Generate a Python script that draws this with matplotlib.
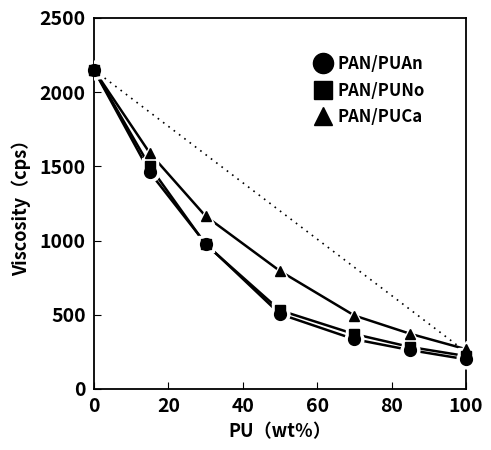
import matplotlib
matplotlib.use("Agg")
import matplotlib.pyplot as plt
from matplotlib.lines import Line2D

plt.rcParams['font.family'] = ['Noto Sans CJK JP', 'DejaVu Sans']
plt.rcParams['font.weight'] = 'bold'

# PU content (wt%)
pu = [0, 15, 30, 50, 70, 85, 100]
# viscosity (cps)
visc_an = [2150, 1460, 980, 505, 335, 262, 200]
visc_no = [2150, 1500, 975, 530, 370, 283, 222]
visc_ca = [2150, 1590, 1165, 795, 495, 372, 268]
# additive (linear) reference
ref_x = [0, 100]
ref_y = [2150, 250]

series = [
    ("PAN/PUAn", visc_an, "o", 8.5),
    ("PAN/PUNo", visc_no, "s", 6.5),
    ("PAN/PUCa", visc_ca, "^", 7),
]
draw_order = [1, 0, 2]

fig = plt.figure(figsize=(4.91, 4.5), dpi=100)
ax = fig.add_axes([0.1914, 0.1356, 0.7576, 0.8244])

ax.plot(ref_x, ref_y, color='black', linestyle=(0, (1, 3)), linewidth=1.2)

for name, y, m, ms in series:
    ax.plot(pu, y, color='black', linewidth=1.8, zorder=2)
# white halos so the lines break near the markers
for name, y, m, ms in series:
    ax.plot(pu, y, linestyle='none', marker=m, markersize=ms + 5,
            color='white', zorder=3)
for i in draw_order:
    name, y, m, ms = series[i]
    ax.plot(pu, y, linestyle='none', marker=m, markersize=ms,
            color='black', zorder=4, clip_on=False)

handles = [Line2D([], [], linestyle='none', marker=m, markersize=ms + 6,
                  color='black', label=name) for name, y, m, ms in series]
leg = ax.legend(handles=handles, loc='upper right', bbox_to_anchor=(0.93, 0.94),
                frameon=False, handletextpad=0.3, labelspacing=0.5,
                prop={'size': 12, 'weight': 'bold'}, handlelength=1.2)

ax.set_xlim(0, 100)
ax.set_ylim(0, 2500)
ax.set_xticks([0, 20, 40, 60, 80, 100])
ax.set_yticks([0, 500, 1000, 1500, 2000, 2500])
ax.tick_params(direction='in', length=5, labelsize=14, pad=6)
for lab in ax.get_xticklabels() + ax.get_yticklabels():
    lab.set_fontweight('bold')
for s in ax.spines.values():
    s.set_linewidth(1.3)

ax.set_xlabel('PU（wt％）', fontsize=13, fontweight='bold', labelpad=4)
ax.set_ylabel('Viscosity（cps）', fontsize=13, fontweight='bold', labelpad=6)

fig.savefig('out.png', dpi=100)
